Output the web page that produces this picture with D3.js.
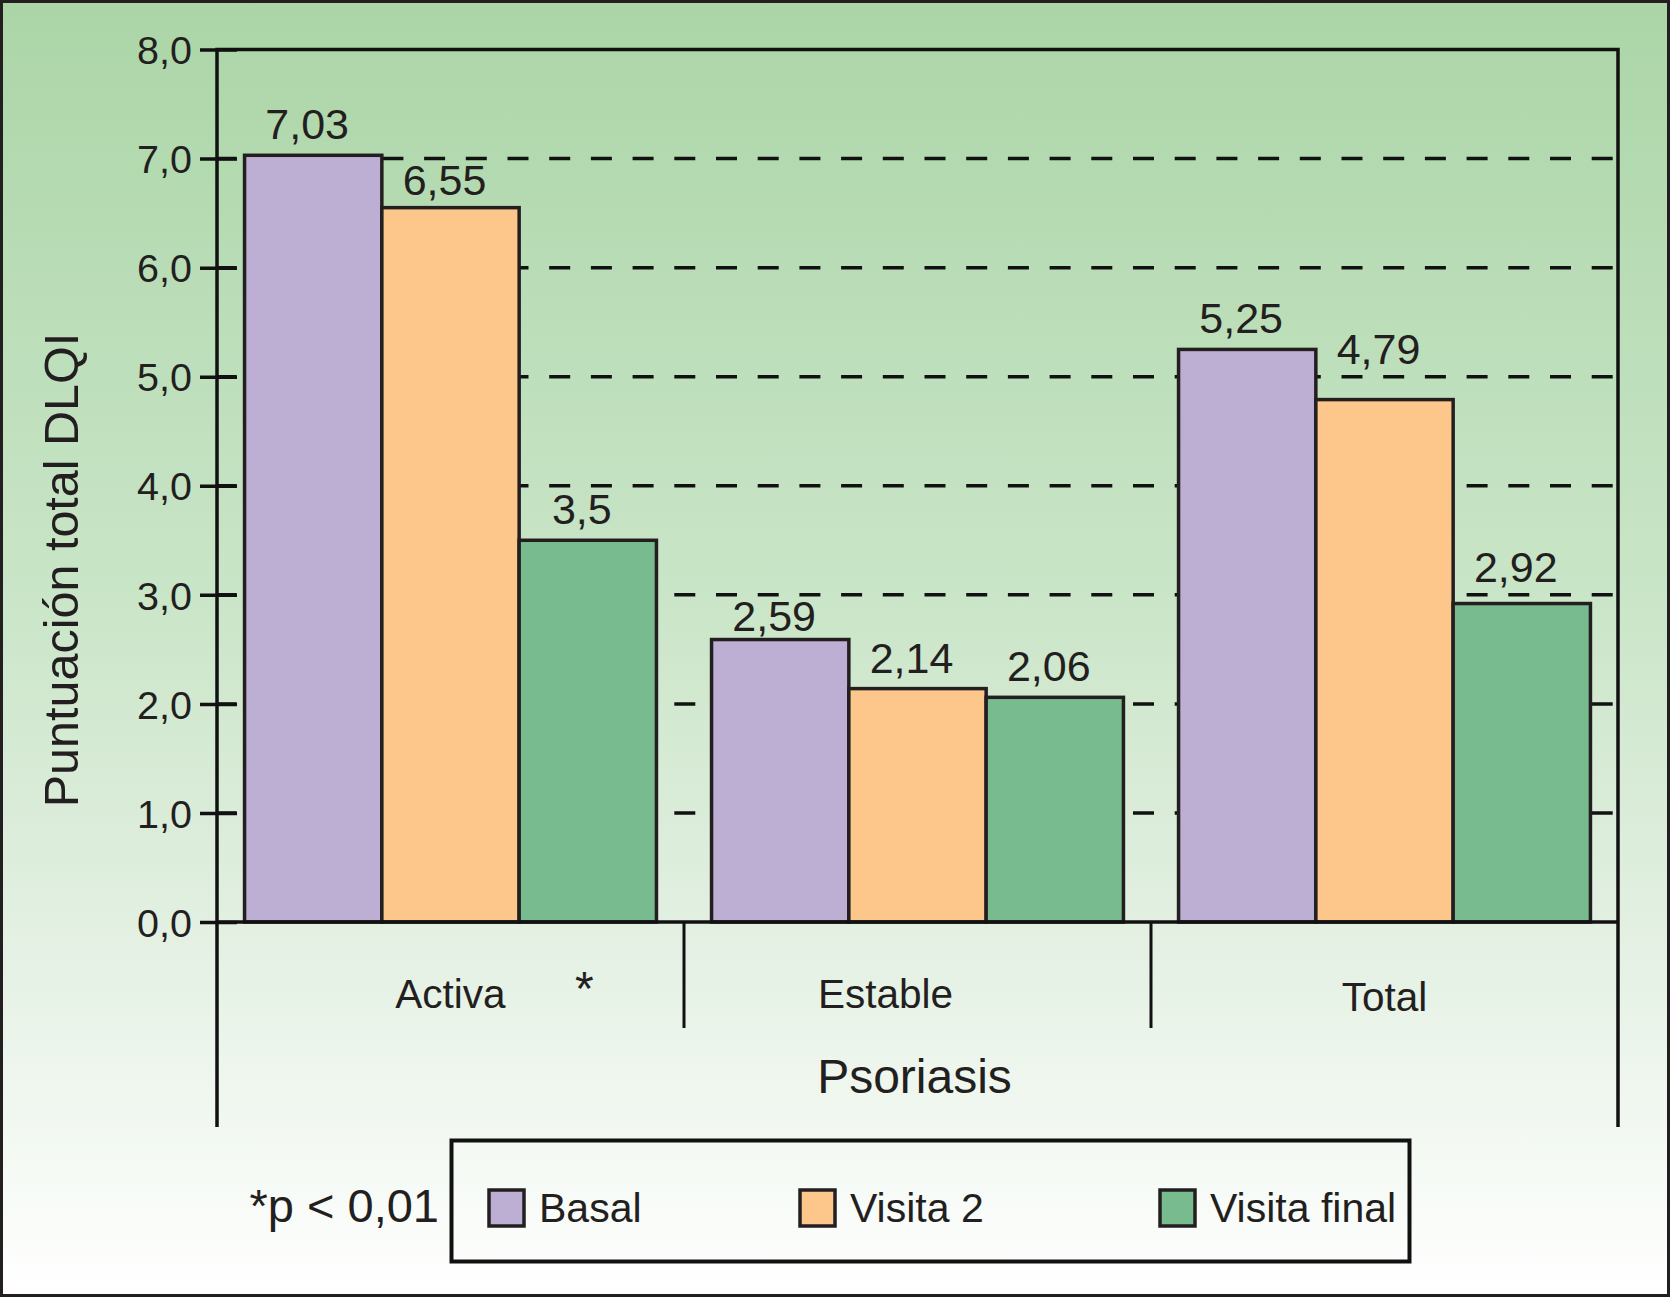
<!DOCTYPE html>
<html>
<head>
<meta charset="utf-8">
<script src="https://cdn.jsdelivr.net/npm/d3@7/dist/d3.min.js"></script>
<style>
  body { margin: 0; background: #fff; }
  text { font-family: "Liberation Sans", Arial, Helvetica, sans-serif; fill: #231f20; }
</style>
</head>
<body>
<svg id="chart" width="1670" height="1297"></svg>
<script>
'use strict';

var categories = ['Activa', 'Estable', 'Total'];
var seriesNames = ['Basal', 'Visita 2', 'Visita final'];
var basal = [7.03, 2.59, 5.25];
var visita2 = [6.55, 2.14, 4.79];
var visitaFinal = [3.5, 2.06, 2.92];
var yTicks = [0, 1, 2, 3, 4, 5, 6, 7, 8];
var seriesColors = ['#bdaed4', '#fdc68a', '#78bb8f'];

(function () {
    var series = [basal, visita2, visitaFinal];
    var ink = '#231f20';

    var svg = d3.select('#chart');

    // background
    var defs = svg.append('defs');
    var grad = defs.append('linearGradient')
        .attr('id', 'bg')
        .attr('x1', 0).attr('y1', 0).attr('x2', 0).attr('y2', 1);
    grad.append('stop').attr('offset', '0%').attr('stop-color', '#abd5a7');
    grad.append('stop').attr('offset', '45%').attr('stop-color', '#c9e5c7');
    grad.append('stop').attr('offset', '72%').attr('stop-color', '#e3f0e2');
    grad.append('stop').attr('offset', '100%').attr('stop-color', '#ffffff');

    svg.append('rect')
        .attr('x', 1.5).attr('y', 1.5)
        .attr('width', 1667).attr('height', 1294)
        .attr('fill', 'url(#bg)')
        .attr('stroke', ink)
        .attr('stroke-width', 3);

    var plotLeft = 217;
    var plotRight = 1618;
    var plotTop = 49.5;
    var plotBottom = 922;
    var frameBottom = 1127;

    var x = d3.scaleBand()
        .domain(categories)
        .range([plotLeft, plotRight])
        .paddingInner(0.118)
        .paddingOuter(0.059);

    var xInner = d3.scaleBand()
        .domain(d3.range(seriesNames.length))
        .range([0, x.bandwidth()]);

    var y = d3.scaleLinear()
        .domain([0, 8])
        .range([plotBottom, plotTop]);

    var gridValues = yTicks.filter(function (d) { return d > 0 && d < 8; });

    // dashed grid lines, drawn from the right so the dash phase matches
    svg.append('g')
        .selectAll('line')
        .data(gridValues)
        .enter()
        .append('line')
        .attr('x1', 1612.7)
        .attr('x2', plotLeft)
        .attr('y1', function (d) { return y(d); })
        .attr('y2', function (d) { return y(d); })
        .attr('stroke', '#111')
        .attr('stroke-width', 3.5)
        .attr('stroke-dasharray', '21,20.7');

    // bars
    var rows = [];
    categories.forEach(function (c, i) {
        series.forEach(function (s, j) {
            rows.push({cat: c, k: j, v: s[i]});
        });
    });

    svg.append('g')
        .selectAll('rect')
        .data(rows)
        .enter()
        .append('rect')
        .attr('x', function (d) { return x(d.cat) + xInner(d.k); })
        .attr('y', function (d) { return y(d.v); })
        .attr('width', xInner.bandwidth())
        .attr('height', function (d) { return y(0) - y(d.v); })
        .attr('fill', function (d) { return seriesColors[d.k]; })
        .attr('stroke', ink)
        .attr('stroke-width', 3.5);

    // value label baseline: keep clear of the dashed lines
    function labelBaseline(v) {
        var capH = 31;
        var b = y(v) - 16;
        var c = b - capH;
        var i;
        var g;

        for (i = 0; i < gridValues.length; i++) {
            g = y(gridValues[i]);
            if (g > c - 4 && g < b + 10) {
                if (g - c < 12) {
                    b = g + capH + 5;
                } else {
                    b = g - 13;
                }
                break;
            }
        }
        return b;
    }

    svg.append('g')
        .selectAll('text')
        .data(rows)
        .enter()
        .append('text')
        .attr('x', function (d) { return x(d.cat) + xInner(d.k) + xInner.bandwidth() / 2 - 6; })
        .attr('y', function (d) { return labelBaseline(d.v); })
        .attr('text-anchor', 'middle')
        .style('font-size', '43px')
        .text(function (d) { return String(d.v).replace('.', ','); });

    // y axis
    var yAxis = svg.append('g')
        .attr('transform', 'translate(' + plotLeft + ',0)')
        .call(d3.axisLeft(y)
            .tickValues(yTicks)
            .tickSize(17)
            .tickPadding(8)
            .tickFormat(function (d) { return d.toFixed(1).replace('.', ','); }));
    yAxis.select('.domain').remove();
    yAxis.selectAll('.tick line')
        .attr('x2', -17)
        .attr('x1', 20)
        .attr('stroke', '#111')
        .attr('stroke-width', 3.5);
    yAxis.selectAll('.tick text')
        .attr('dy', '0.36em')
        .style('font-size', '39.5px')
        .style('font-family', '"Liberation Sans", Arial, sans-serif')
        .attr('fill', ink);

    // frame
    var frame = svg.append('g')
        .attr('stroke', '#111')
        .attr('stroke-width', 3.5)
        .attr('fill', 'none');
    frame.append('path')
        .attr('d', 'M' + plotLeft + ',' + frameBottom + 'V' + plotTop + 'H' + plotRight + 'V' + frameBottom);
    frame.append('line')
        .attr('x1', plotLeft).attr('x2', plotRight)
        .attr('y1', plotBottom).attr('y2', plotBottom);

    // category dividers
    frame.selectAll('.divider')
        .data(categories.slice(1))
        .enter()
        .append('line')
        .attr('x1', function (d) { return x(d) - x.step() * x.paddingInner() / 2; })
        .attr('x2', function (d) { return x(d) - x.step() * x.paddingInner() / 2; })
        .attr('y1', plotBottom)
        .attr('y2', 1028)
        .attr('stroke-width', 3);

    var catNudge = {Activa: 0, Estable: -32, Total: 0};
    svg.append('g')
        .selectAll('text')
        .data(categories)
        .enter()
        .append('text')
        .attr('x', function (d) { return x(d) + x.bandwidth() / 2 + catNudge[d]; })
        .attr('y', function (d) { return d === 'Total' ? 1011 : 1008; })
        .attr('text-anchor', 'middle')
        .style('font-size', '40.5px')
        .text(function (d) { return d; });

    // significance mark on Activa
    svg.append('text')
        .attr('x', x('Activa') + x.bandwidth() * 0.825)
        .attr('y', 1005)
        .attr('text-anchor', 'middle')
        .style('font-size', '48px')
        .text('*');

    svg.append('text')
        .attr('x', (plotLeft + plotRight) / 2 - 3)
        .attr('y', 1093)
        .attr('text-anchor', 'middle')
        .style('font-size', '48px')
        .text('Psoriasis');

    svg.append('text')
        .attr('transform', 'translate(78,570) rotate(-90)')
        .attr('text-anchor', 'middle')
        .style('font-size', '48.5px')
        .text('Puntuación total DLQI');

    // legend
    svg.append('rect')
        .attr('x', 451.5).attr('y', 1140.5)
        .attr('width', 958).attr('height', 121)
        .attr('fill', 'none')
        .attr('stroke', '#111')
        .attr('stroke-width', 4);

    var legendX = [489, 800, 1160];
    var legend = svg.append('g')
        .selectAll('g')
        .data(seriesNames)
        .enter()
        .append('g')
        .attr('transform', function (d, i) { return 'translate(' + legendX[i] + ',1190)'; });
    legend.append('rect')
        .attr('width', 35).attr('height', 36)
        .attr('fill', function (d, i) { return seriesColors[i]; })
        .attr('stroke', ink)
        .attr('stroke-width', 3.5);
    legend.append('text')
        .attr('x', 50)
        .attr('y', 32)
        .style('font-size', '41px')
        .text(function (d) { return d; });

    svg.append('text')
        .attr('x', 439)
        .attr('y', 1222)
        .attr('text-anchor', 'end')
        .style('font-size', '47px')
        .text('*p < 0,01');
})();
</script>
</body>
</html>
